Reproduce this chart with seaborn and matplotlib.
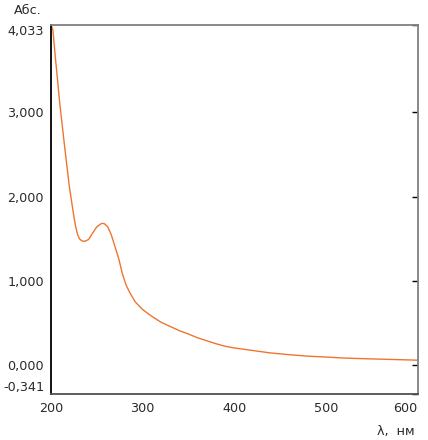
import numpy as np
import pandas as pd
import matplotlib
matplotlib.use("Agg")
import matplotlib.pyplot as plt
import seaborn as sns

# spectrum
wavelength = [200, 202, 205, 210, 215, 220, 225, 227, 229, 231, 233, 235, 237, 241, 245,
              250, 255, 258, 262, 266, 270, 274, 278, 282, 286, 292, 300,
              310, 320, 330, 340, 350, 360, 370, 380, 390, 400, 420, 440,
              460, 480, 500, 520, 540, 560, 580, 600]
absorbance = [4.033, 3.98, 3.62, 3.06, 2.58, 2.12, 1.76, 1.64, 1.55, 1.50, 1.48, 1.47, 1.47, 1.49, 1.56,
              1.64, 1.68, 1.68, 1.64, 1.54, 1.40, 1.26, 1.08, 0.95, 0.86, 0.75, 0.66,
              0.58, 0.51, 0.46, 0.41, 0.37, 0.325, 0.29, 0.255, 0.225, 0.205, 0.175, 0.145,
              0.125, 0.108, 0.097, 0.085, 0.078, 0.072, 0.066, 0.06]

y_ticks = [-0.341, 0.0, 1.0, 2.0, 3.0, 4.033]
x_ticks = [200, 300, 400, 500, 600]

df = pd.DataFrame({"nm": wavelength, "abs": absorbance})

sns.set_style("white")
plt.rcParams["font.family"] = ["DejaVu Sans"]

fig = plt.figure(figsize=(4.28, 4.40), dpi=100)
ax = fig.add_axes([51 / 428, 46 / 440, 366.5 / 428, 369 / 440])

sns.lineplot(data=df, x="nm", y="abs", ax=ax, color="#EE7530", linewidth=1.0)

ax.set_xlim(200, 600)
ax.set_ylim(-0.341, 4.033)
ax.set_xticks(x_ticks)
ax.set_yticks(y_ticks)
ax.set_yticklabels([f"{v:.3f}".replace(".", ",") for v in y_ticks])
ax.set_xticklabels([str(v) for v in x_ticks])
ax.set_xlabel("")
ax.set_ylabel("")

ax.tick_params(axis="both", direction="in", length=4, width=1, color="black",
               labelsize=9.2, labelcolor="#2a2a2a", pad=4)
ax.tick_params(axis="y", right=True, pad=5)
ax.tick_params(axis="x", pad=6)

# end labels are pushed inside the axis range, as in the original
xl = ax.get_xticklabels()
xl[-1].set_horizontalalignment("right")
xl[-1].set_x(603)
xl[0].set_x(203)
yl = ax.get_yticklabels()
yl[0].set_verticalalignment("bottom")
yl[-1].set_verticalalignment("top")

for side, col in [("left", "black"), ("bottom", "#505050"),
                  ("top", "#808080"), ("right", "#808080")]:
    ax.spines[side].set_color(col)
    ax.spines[side].set_linewidth(1.3)

fig.text(28 / 428, 1 - 10 / 440, "Абс.", ha="center", va="center",
         fontsize=9.2, color="#2a2a2a")
fig.text(396 / 428, 1 - 431 / 440, "λ,  нм", ha="center", va="center",
         fontsize=9.2, color="#2a2a2a")

fig.savefig("out.png", dpi=100)
